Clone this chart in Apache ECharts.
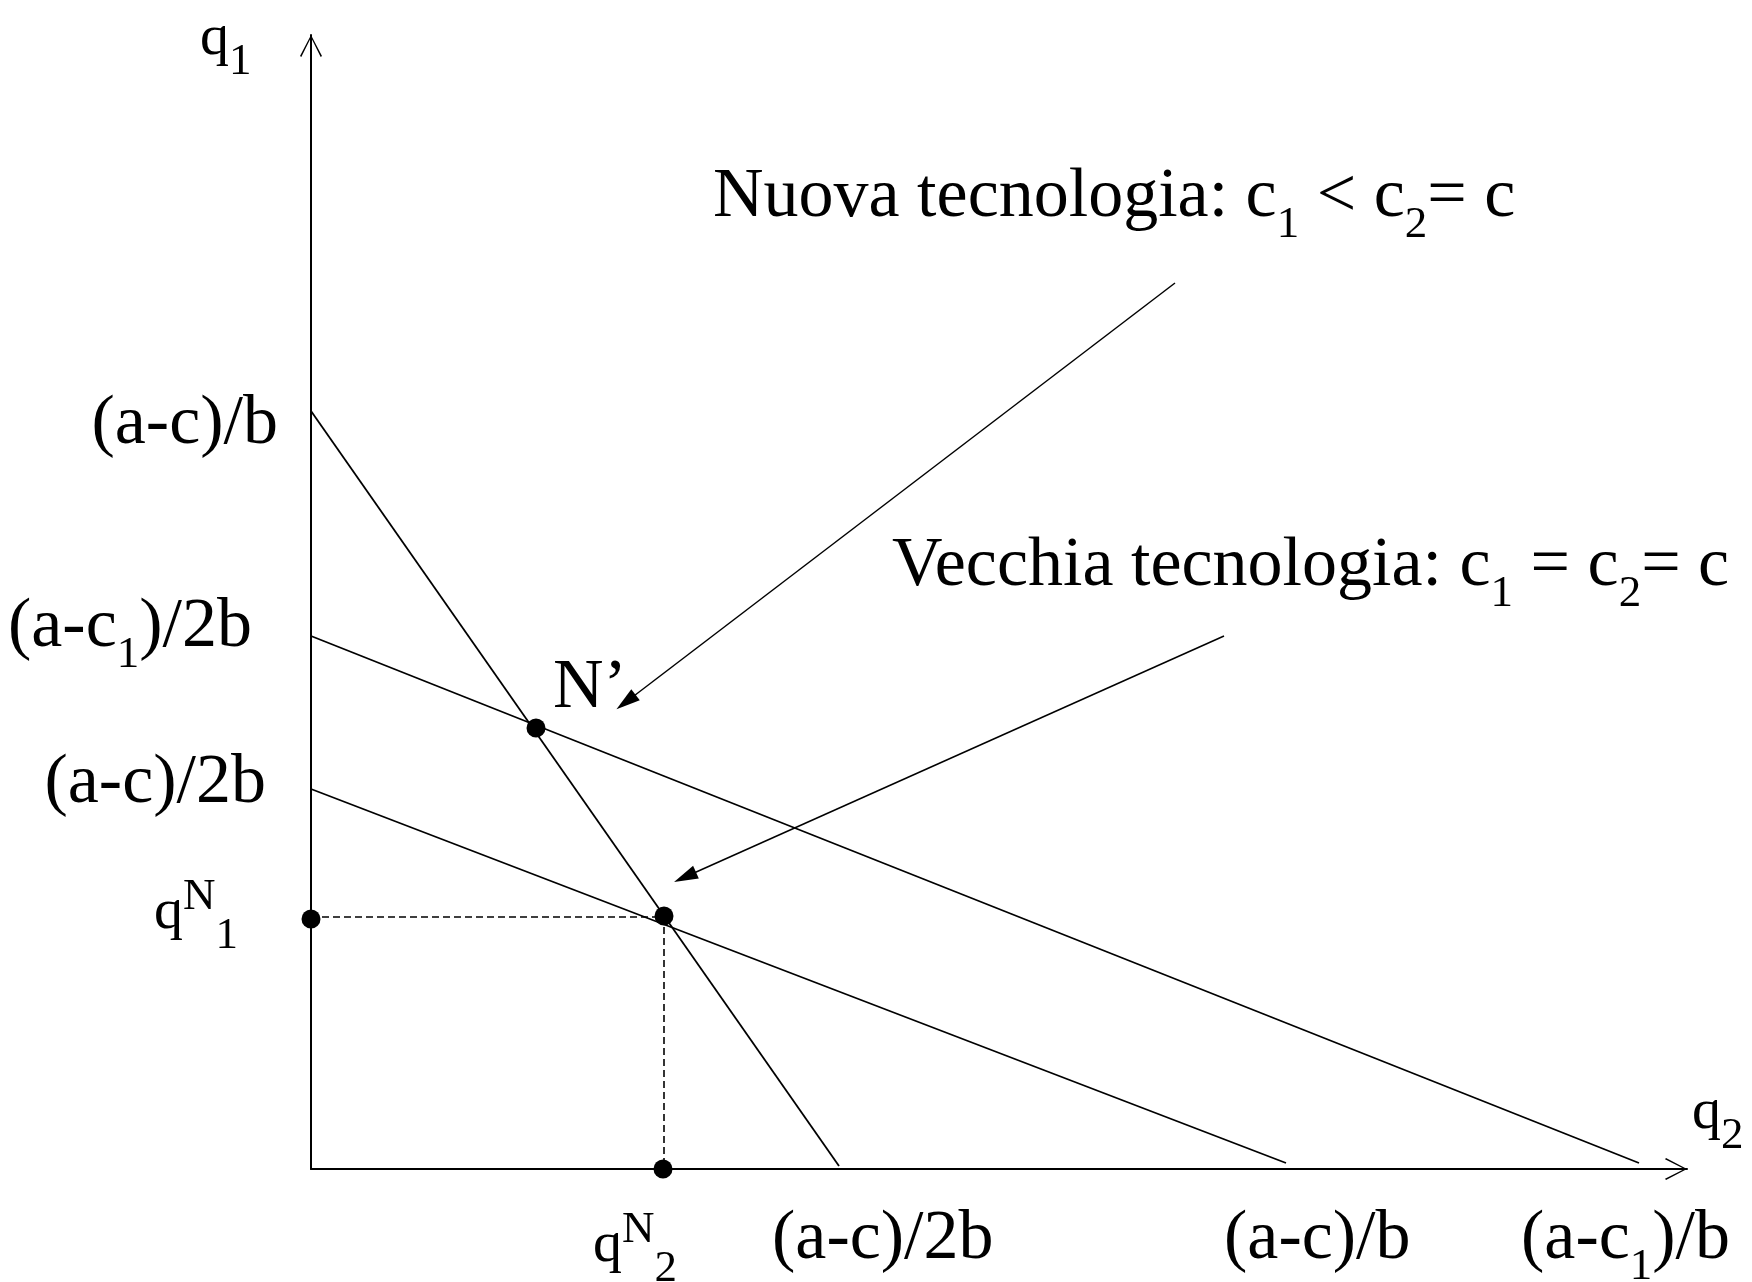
<!DOCTYPE html>
<html>
<head>
<meta charset="utf-8">
<title>Duopolio di Cournot: nuova tecnologia</title>
<script src="https://cdn.jsdelivr.net/npm/echarts@6/dist/echarts.min.js"></script>
<style>
  html,body{margin:0;padding:0;background:#fff;}
  #chart{width:1752px;height:1282px;}
</style>
</head>
<body>
<div id="chart"></div>
<script>
// valori (unita' arbitrarie): x = q2, y = q1
const axisMax = [13.76, 11.34];
const lineSteep = [[0, 7.58], [5.28, 0.03]];   // da (a-c)/b a (a-c)/2b
const lineNew = [[0, 5.33], [13.28, 0.06]];    // da (a-c1)/2b a (a-c1)/b
const lineOld = [[0, 3.80], [9.75, 0.06]];     // da (a-c)/2b a (a-c)/b
const guide = [[0, 2.52], [3.53, 2.52], [3.53, 0]];
const dots = [[0, 2.50], [3.53, 2.53], [2.25, 4.41], [3.52, 0]];
const arrowNew = [[8.64, 8.86], [3.15, 4.67]];
const arrowOld = [[9.13, 5.33], [3.74, 2.92]];

// testi (rich text: m = normale, q = variabile, sub/sup = pedici e apici)
const yTickTexts = ['{m|(a-c)/b}', '{m|(a-c}{sub|1}{m|)/2b}', '{m|(a-c)/2b}', '{q|q}{sup|N}{sub|1}'];
const xTickTexts = ['{q|q}{sup|N}{sub|2}', '{m|(a-c)/2b}', '{m|(a-c)/b}', '{m|(a-c}{sub|1}{m|)/b}'];
const axisNames = ['{q|q}{sub|1}', '{q|q}{sub|2}'];
const notes = ['{m|N\u2019}', '{m|Nuova tecnologia: c}{sub|1}{m| < c}{sub|2}{m|= c}', '{m|Vecchia tecnologia: c}{sub|1}{m| = c}{sub|2}{m|= c}'];

const serif = '"Liberation Serif", "Times New Roman", serif';
const rich = {
  m: {fontSize: 70, fontFamily: serif, fill: '#000', lineHeight: 100, verticalAlign: 'top', padding: [0, 0, 0, 0]},
  q: {fontSize: 58, fontFamily: serif, fill: '#000', lineHeight: 100, verticalAlign: 'top', padding: [10, 0, 0, 0]},
  sub: {fontSize: 45, fontFamily: serif, fill: '#000', lineHeight: 100, verticalAlign: 'top', padding: [40, 0, 0, 0]},
  sup: {fontSize: 45, fontFamily: serif, fill: '#000', lineHeight: 100, verticalAlign: 'top', padding: [1, 0, 0, 0]}
};

// x = bordo, base = linea di base del testo
function txt(text, x, base, align) {
  return {
    type: 'text', x: x, y: base - 53, silent: true,
    style: {text: text, rich: rich, align: align || 'left', verticalAlign: 'top', fill: '#000', font: '70px ' + serif}
  };
}

const texts = [
  txt(yTickTexts[0], 278, 443, 'right'),
  txt(yTickTexts[1], 252, 646, 'right'),
  txt(yTickTexts[2], 266, 802, 'right'),
  txt(yTickTexts[3], 154, 927),
  txt(xTickTexts[0], 593, 1260),
  txt(xTickTexts[1], 772, 1258),
  txt(xTickTexts[2], 1224, 1258),
  txt(xTickTexts[3], 1521, 1258),
  txt(axisNames[0], 200, 53),
  txt(axisNames[1], 1692, 1127),
  txt(notes[0], 553, 707),
  txt(notes[1], 713, 216),
  txt(notes[2], 892, 585)
];

// freccia aperta in fondo agli assi
const chevron = 'path://M11,0 L22,21 L20.7,22 L11,2.6 L1.3,22 L0,21 Z';
const axisLine = {
  show: true, symbol: ['none', chevron], symbolSize: [22, 22], symbolOffset: [0, -11],
  lineStyle: {color: '#000', width: 2}
};

const chart = echarts.init(document.getElementById('chart'));
const thin = {color: '#000', width: 1.8};

chart.setOption({
  animation: false,
  backgroundColor: '#fff',
  grid: {left: 311, top: 35, width: 1376, height: 1134},
  xAxis: {type: 'value', min: 0, max: axisMax[0], axisLine: axisLine,
    axisTick: {show: false}, axisLabel: {show: false}, splitLine: {show: false}},
  yAxis: {type: 'value', min: 0, max: axisMax[1], axisLine: axisLine,
    axisTick: {show: false}, axisLabel: {show: false}, splitLine: {show: false}},
  series: [
    {type: 'line', data: lineSteep, symbol: 'none', lineStyle: thin, silent: true,
      markLine: {
        silent: true, symbol: ['none', 'triangle'], symbolSize: [14, 24],
        label: {show: false},
        lineStyle: {color: '#000', width: 1.5, type: 'solid'},
        data: [
          [{coord: arrowNew[0]}, {coord: arrowNew[1]}],
          [{coord: arrowOld[0]}, {coord: arrowOld[1]}]
        ]
      }},
    {type: 'line', data: lineNew, symbol: 'none', lineStyle: thin, silent: true},
    {type: 'line', data: lineOld, symbol: 'none', lineStyle: thin, silent: true},
    {type: 'line', data: guide, symbol: 'none', silent: true,
      lineStyle: {color: '#000', width: 1.6, type: [7, 4]}},
    {type: 'scatter', data: dots, symbolSize: 19, silent: true, itemStyle: {color: '#000', opacity: 1}}
  ],
  graphic: texts
});
</script>
</body>
</html>
